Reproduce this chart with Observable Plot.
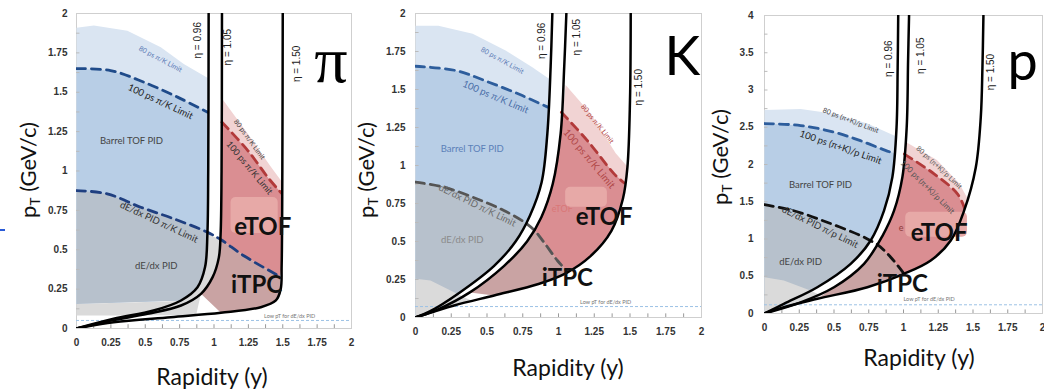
<!DOCTYPE html>
<html><head><meta charset="utf-8">
<script src="https://cdn.jsdelivr.net/npm/d3@7"></script>
<script src="https://cdn.jsdelivr.net/npm/@observablehq/plot@0.6"></script>
<style>
body{margin:0;background:#fff;}
#wrap{position:relative;width:1044px;height:389px;overflow:hidden;background:#fff;}
.ttl{position:absolute;font-family:Lato,"Open Sans",sans-serif;color:#111;white-space:nowrap;line-height:1;}
.ttl sub{font-size:0.62em;vertical-align:-0.25em;}
</style></head><body><div id="wrap"></div>
<script>
// ---------------- shared ticks ----------------
const xTickValues = [0, 0.25, 0.5, 0.75, 1, 1.25, 1.5, 1.75, 2];
const xMinorTicks = [0.125, 0.25, 0.375, 0.5, 0.625, 0.75, 0.875, 1, 1.125, 1.25, 1.375, 1.5, 1.625, 1.75, 1.875];
const yTicks2 = [0, 0.25, 0.5, 0.75, 1, 1.25, 1.5, 1.75, 2];
const yMinor2 = [0.125, 0.25, 0.375, 0.5, 0.625, 0.75, 0.875, 1, 1.125, 1.25, 1.375, 1.5, 1.625, 1.75, 1.875];
const yTicks4 = [0, 0.5, 1, 1.5, 2, 2.5, 3, 3.5, 4];
const yMinor4 = [0.25, 0.5, 0.75, 1, 1.25, 1.5, 1.75, 2, 2.25, 2.5, 2.75, 3, 3.25, 3.5, 3.75];

// ---------------- pion panel [rapidity, pT] ----------------
const piEta096 = [[0.961,2.0],[0.958,1.0],[0.952,0.6],[0.935,0.39],[0.88,0.262],[0.76,0.178],[0.56,0.114],[0.27,0.062],[0,0]];
const piEta105 = [[1.058,2.0],[1.055,1.0],[1.048,0.6],[1.035,0.45],[0.99,0.326],[0.905,0.22],[0.76,0.146],[0.516,0.093],[0.25,0.05],[0,0]];
const piEta150 = [[1.50,2.0],[1.497,1.0],[1.492,0.4],[1.485,0.25],[1.45,0.178],[1.34,0.135],[1.05,0.10],[0.686,0.072],[0.27,0.04],[0,0]];
const piTof80 = [[0,1.91],[0.126,1.924],[0.37,1.89],[0.613,1.786],[0.78,1.68],[0.955,1.59]];
const piTof100 = [[0,1.65],[0.248,1.638],[0.49,1.564],[0.735,1.469],[0.954,1.373]];
const piDedxL = [[0,0.876],[0.224,0.855],[0.467,0.77],[0.71,0.696],[0.95,0.612]];
const piDedxR = [[1.048,0.565],[1.22,0.46],[1.48,0.33]];
const piEtof80 = [[1.058,1.46],[1.246,1.236],[1.416,1.024],[1.495,0.93]];
const piEtof100 = [[1.058,1.31],[1.246,1.13],[1.40,0.95],[1.49,0.86]];
const piGrey = [[0,0.083],[0,0.155],[0.76,0.175],[0.88,0.262],[0.935,0.39],[0.952,0.6],[1.048,0.565],[1.035,0.45],[0.99,0.326],[0.905,0.22],[0.87,0.086],[0.45,0.083]];
const piBox = [1.124, 1.467, 0.603, 0.832];
const piLowPt = 0.051;
const piLabels = [
  ["tof80","80 ps π/K Limit",0.61,1.71],
  ["tof100","100 ps π/K Limit",0.61,1.44],
  ["barrel","Barrel TOF PID",0.40,1.19],
  ["dedxLim","dE/dx PID π/K Limit",0.60,0.675],
  ["dedx","dE/dx PID",0.58,0.40],
  ["etof80","80 ps π/K Limit",1.258,1.20],
  ["etof100","100 ps π/K Limit",1.258,1.02],
  ["lowpt","Low pT for dE/dx PID",1.55,0.076],
  ["eta","η = 0.96",0.88,1.83],
  ["eta","η = 1.05",1.10,1.786],
  ["eta","η = 1.50",1.60,1.68],
  ["big","eTOF",1.355,0.643],
  ["big","iTPC",1.31,0.273],
  ["particle","π",1.85,1.70]
];

// ---------------- kaon panel ----------------
const kEta096 = [[0.957,2.0],[0.945,1.65],[0.922,1.21],[0.882,0.89],[0.80,0.67],[0.70,0.50],[0.55,0.34],[0.31,0.165],[0.10,0.04],[0,0]];
const kEta105 = [[1.055,2.0],[1.04,1.65],[1.015,1.21],[0.96,0.88],[0.88,0.66],[0.78,0.50],[0.62,0.34],[0.38,0.165],[0.15,0.05],[0,0]];
const kEta150 = [[1.505,2.0],[1.50,1.43],[1.482,0.99],[1.45,0.78],[1.37,0.57],[1.22,0.40],[1.05,0.29],[0.86,0.22],[0.55,0.145],[0.27,0.079],[0,0]];
const kTof80 = [[0,1.92],[0.16,1.92],[0.40,1.866],[0.63,1.757],[0.817,1.647],[0.934,1.57]];
const kTof100 = [[0,1.653],[0.28,1.625],[0.513,1.548],[0.747,1.46],[0.925,1.384]];
const kDedxL = [[0,0.89],[0.2,0.857],[0.432,0.78],[0.618,0.704],[0.765,0.625]];
const kDedxR = [[0.83,0.575],[0.898,0.495],[0.992,0.375],[1.065,0.30]];
const kEtof80 = [[1.05,1.53],[1.225,1.34],[1.40,1.08],[1.475,1.0]];
const kEtof100 = [[1.02,1.35],[1.202,1.164],[1.389,0.945],[1.46,0.885]];
const kGrey = [[0,0],[0,0.255],[0.105,0.243],[0.245,0.178],[0.362,0.123],[0.40,0.11],[0.27,0.079]];
const kBox = [1.05, 1.342, 0.726, 0.857];
const kLowPt = 0.072;
const kLabels = [
  ["tof80","80 ps π/K Limit",0.607,1.69],
  ["tof100","100 ps π/K Limit",0.56,1.45],
  ["barrel","Barrel TOF PID",0.397,1.11],
  ["dedxLim","dE/dx PID π/K Limit",0.432,0.737],
  ["dedx","dE/dx PID",0.327,0.507],
  ["etof80","80 ps π/K Limit",1.272,1.274],
  ["etof100","100 ps π/K Limit",1.214,1.044],
  ["lowpt","Low pT for dE/dx PID",1.33,0.10],
  ["eta","η = 0.96",0.886,1.82],
  ["eta","η = 1.05",1.13,1.844],
  ["eta","η = 1.50",1.564,1.515],
  ["faint","eTOF",0.953,0.715],
  ["big","eTOF",1.319,0.66],
  ["big","iTPC",1.062,0.255],
  ["particle","K",1.867,1.71]
];

// ---------------- proton panel ----------------
const pEta096 = [[0.962,4.0],[0.958,3.3],[0.95,2.5],[0.92,1.83],[0.86,1.38],[0.764,0.98],[0.62,0.667],[0.38,0.353],[0.139,0.13],[0,0]];
const pEta105 = [[1.04,4.0],[1.033,3.4],[1.023,2.5],[0.992,1.83],[0.932,1.38],[0.848,1.04],[0.716,0.667],[0.5,0.353],[0.26,0.15],[0,0]];
const pEta150 = [[1.575,4.0],[1.568,3.31],[1.556,2.635],[1.52,1.96],[1.436,1.38],[1.34,0.98],[1.196,0.711],[1.004,0.533],[0.74,0.353],[0.38,0.197],[0.139,0.085],[0,0]];
const pTof80 = [[0,2.73],[0.26,2.745],[0.5,2.68],[0.74,2.55],[0.908,2.41],[0.946,2.38]];
const pTof100 = [[0,2.55],[0.26,2.523],[0.5,2.434],[0.69,2.32],[0.87,2.19],[0.935,2.15]];
const pDedxL = [[0,1.46],[0.21,1.38],[0.45,1.225],[0.69,1.047],[0.765,0.975]];
const pDedxR = [[0.81,0.93],[0.908,0.756],[1.004,0.533]];
const pEtof80 = [[1.02,2.30],[1.24,2.06],[1.40,1.75],[1.459,1.55]];
const pEtof100 = [[1.006,2.14],[1.22,1.875],[1.388,1.607],[1.438,1.42]];
const pGrey = [[0,0],[0,0.487],[0.139,0.443],[0.33,0.309],[0.43,0.22],[0.38,0.197],[0.139,0.085]];
const pBox = [1.016, 1.46, 1.024, 1.36];
const pLowPt = 0.117;
const pLabels = [
  ["tof80","80 ps (π+K)/p Limit",0.62,2.59],
  ["tof100","100 ps (π+K)/p Limit",0.548,2.23],
  ["barrel","Barrel TOF PID",0.403,1.73],
  ["dedxLim","dE/dx PID π/p Limit",0.40,1.16],
  ["dedx","dE/dx PID",0.26,0.69],
  ["etof80","80 ps (π+K)/p Limit",1.256,1.96],
  ["etof100","100 ps (π+K)/p Limit",1.172,1.695],
  ["lowpt","Low pT for dE/dx PID",1.184,0.19],
  ["eta","η = 0.96",0.896,3.42],
  ["eta","η = 1.05",1.124,3.46],
  ["eta","η = 1.50",1.628,3.24],
  ["faint","e",0.965,1.14],
  ["big","eTOF",1.256,1.07],
  ["big","iTPC",0.992,0.39],
  ["particle","p",1.857,3.37]
];

// ---------------- styles ----------------
const baseStyle = {
  tof80:{size:7,color:"#5a7ab5"}, tof100:{size:9.5,color:"#222"}, barrel:{size:9.5,color:"#444"},
  dedxLim:{size:9.5,color:"#333"}, dedx:{size:9.5,color:"#444"}, etof80:{size:7,color:"#444"},
  etof100:{size:9,color:"#333"}, lowpt:{size:5.5,color:"#777"},
  eta:{size:10,color:"#222",rotate:-90,font:"Liberation Sans"},
  faint:{size:9,color:"#d97777",anchor:"start"},
  big:{size:24,color:"#111",weight:"bold"},
  particle:{size:54,color:"#000"}
};
const panelStyles = {
  pi:{tof80:{rotate:28},tof100:{rotate:25},dedxLim:{rotate:25},etof80:{rotate:54},etof100:{rotate:50},
      particle:{size:66,font:"Liberation Serif"}},
  k:{tof80:{rotate:29},tof100:{rotate:23,color:"#4a6da6"},barrel:{color:"#5b80b8"},dedxLim:{rotate:26,color:"#6b6b6b"},
     dedx:{color:"#8a8a8a"},etof80:{rotate:51,color:"#b04040"},etof100:{rotate:50,size:10,color:"#b04848"}},
  p:{tof80:{rotate:21,color:"#444"},tof100:{rotate:19},dedxLim:{rotate:26},etof80:{rotate:43,color:"#555"},
     etof100:{rotate:45,size:8,color:"#555"},faint:{color:"#8a3a3a"}}
};
const lineColors = {
  pi:{tof:"#1f4b8a",dedx:"#1f3f80"},
  k:{tof:"#2d5d9c",dedx:"#555"},
  p:{tof:"#2d5d9c",dedx:"#111"}
};

// ---------------- helpers ----------------
const X = d => d[0], Y = d => d[1];
const last = a => a[a.length-1];
const fmt = d => String(d);
function regionLeft(top, eta, bottom){
  const end = last(top);
  return [...top, ...eta.filter(p => p[1] < end[1] && p[1] > bottom), [0, bottom]];
}
function regionRight(top, eta105, eta150, dR){
  const end = last(top), start = top[0];
  return [...top,
    ...eta150.filter(p => p[1] < end[1] && p[1] > last(dR)[1]),
    ...dR.slice().reverse(),
    ...eta105.filter(p => p[1] > dR[0][1] && p[1] < start[1]).reverse()];
}
function brownRegion(dR, eta105, eta150, tipY){
  return [...dR,
    ...eta150.filter(p => p[1] < last(dR)[1] && p[0] > tipY),
    ...eta105.filter(p => p[1] < dR[0][1] && p[0] > tipY).reverse()];
}
const poly = (data, fill) => Plot.line(data, {x:X, y:Y, fill, stroke:"none", curve:"linear", clip:true});
const curveLine = (data, stroke, w, dash) => Plot.line(data, {x:X, y:Y, stroke, strokeWidth:w, strokeDasharray:dash, curve:"catmull-rom", clip:true});

function buildPanel(c){
  const st = panelStyles[c.key], lc = lineColors[c.key];
  const tickLen = c.yMax * 0.012;
  const labelMarks = c.labels.map(([k, txt, yy, pp]) => {
    const s = {...baseStyle[k], ...(st[k]||{})};
    return Plot.text([[yy, pp]], {x:X, y:Y, text:() => txt, fontSize:s.size, fill:s.color,
      rotate:s.rotate||0, fontWeight:s.weight||"normal", fontFamily:s.font||"Lato",
      textAnchor:s.anchor||"middle", lineAnchor:"middle"});
  });
  const faintIdx = c.labels.findIndex(l => l[0] === "faint");
  const faint = faintIdx >= 0 ? [labelMarks[faintIdx]] : [];
  const others = labelMarks.filter((m,i) => i !== faintIdx);
  return Plot.plot({
    width:c.width, height:c.height,
    marginLeft:c.ml, marginRight:c.mr, marginTop:c.mt, marginBottom:c.mb,
    x:{domain:[0,2]}, y:{domain:[0,c.yMax]},
    style:{background:"transparent", overflow:"visible", fontFamily:"Liberation Sans, Arial, sans-serif"},
    marks:[
      Plot.frame({stroke:"#cfcfcf"}),
      poly(regionLeft(c.tof80, c.eta096, c.blueBottom), "#dae5f2"),
      poly(regionLeft(c.tof100, c.eta096, c.blueBottom), "#b8cee6"),
      poly(regionLeft(c.dedxL, c.eta096, c.blueBottom), "#b7c1cc"),
      poly(c.grey, "#dadada"),
      poly(regionRight(c.etof80, c.eta105, c.eta150, c.dedxR), "#f1d3d3"),
      poly(regionRight(c.etof100, c.eta105, c.eta150, c.dedxR), "#da8e92"),
      poly(brownRegion(c.dedxR, c.eta105, c.eta150, c.tipY), "#c9a3a3"),
      ...faint,
      Plot.rect([c.box], {x1:d=>d[0], x2:d=>d[1], y1:d=>d[2], y2:d=>d[3], fill:"#e7a9a7", rx:5}),
      Plot.ruleY([c.lowPt], {stroke:"#9cc2e5", strokeWidth:1, strokeDasharray:"3,2"}),
      Plot.ruleX(xMinorTicks, {y1:0, y2:tickLen, stroke:"#999"}),
      Plot.ruleY(c.yMinor, {x1:0, x2:0.025, stroke:"#bbb"}),
      curveLine(c.tof100, lc.tof, 2.8, "9,6"),
      curveLine([...c.dedxL, ...c.dedxR], lc.dedx, 2.8, "9,6"),
      curveLine(c.etof100, "#b23a3a", 2.8, "9,6"),
      curveLine(c.eta096, "#000", 2.5),
      curveLine(c.eta105, "#000", 2.5),
      curveLine(c.eta150, "#000", 2.5),
      ...others,
      Plot.axisX(xTickValues, {tickSize:0, tickPadding:c.xPad, fontSize:10, fontWeight:"bold", fill:"#333", label:null, tickFormat:fmt}),
      Plot.axisY(c.yTicks, {tickSize:0, tickPadding:c.yPad, fontSize:10, fontWeight:"bold", fill:"#333", label:null, tickFormat:fmt})
    ]
  });
}

const panels = [
  {key:"pi", left:0, width:360, height:350, ml:76, mr:9, mt:13, mb:22, yMax:2, yTicks:yTicks2, yMinor:yMinor2,
   eta096:piEta096, eta105:piEta105, eta150:piEta150, tof80:piTof80, tof100:piTof100, dedxL:piDedxL, dedxR:piDedxR,
   etof80:piEtof80, etof100:piEtof100, grey:piGrey, box:piBox, lowPt:piLowPt, labels:piLabels, blueBottom:0.155, tipY:0.85,
   xPad:10, yPad:9, ytitle:[30,170], xtitle:[212,376]},
  {key:"k", left:355, width:350, height:340, ml:60, mr:4, mt:13, mb:23, yMax:2, yTicks:yTicks2, yMinor:yMinor2,
   eta096:kEta096, eta105:kEta105, eta150:kEta150, tof80:kTof80, tof100:kTof100, dedxL:kDedxL, dedxR:kDedxR,
   etof80:kEtof80, etof100:kEtof100, grey:kGrey, box:kBox, lowPt:kLowPt, labels:kLabels, blueBottom:0, tipY:0.36,
   xPad:10, yPad:10, ytitle:[368,170], xtitle:[568,367]},
  {key:"p", left:700, width:344, height:335, ml:64, mr:2, mt:15, mb:22, yMax:4, yTicks:yTicks4, yMinor:yMinor4,
   eta096:pEta096, eta105:pEta105, eta150:pEta150, tof80:pTof80, tof100:pTof100, dedxL:pDedxL, dedxR:pDedxR,
   etof80:pEtof80, etof100:pEtof100, grey:pGrey, box:pBox, lowPt:pLowPt, labels:pLabels, blueBottom:0, tipY:0.35,
   xPad:10, yPad:11, ytitle:[722,157], xtitle:[919,357]}
];

const wrap = document.getElementById("wrap");
for (const c of panels){
  const svg = buildPanel(c);
  svg.style.position = "absolute";
  svg.style.left = c.left + "px";
  svg.style.top = "0px";
  wrap.appendChild(svg);
  const yt = document.createElement("div");
  yt.className = "ttl";
  yt.style.fontSize = "22px";
  yt.innerHTML = "p<sub>T</sub> (GeV/c)";
  yt.style.left = c.ytitle[0] + "px"; yt.style.top = c.ytitle[1] + "px";
  yt.style.transform = "translate(-50%,-50%) rotate(-90deg)";
  wrap.appendChild(yt);
  const xt = document.createElement("div");
  xt.className = "ttl";
  xt.style.fontSize = "23px";
  xt.textContent = "Rapidity (y)";
  xt.style.left = c.xtitle[0] + "px"; xt.style.top = c.xtitle[1] + "px";
  xt.style.transform = "translate(-50%,-50%)";
  wrap.appendChild(xt);
}
const mark = document.createElement("div");
mark.style.cssText = "position:absolute;left:0;top:229px;width:5px;height:2px;background:#2a5bd7;";
wrap.appendChild(mark);
</script>
</body></html>
